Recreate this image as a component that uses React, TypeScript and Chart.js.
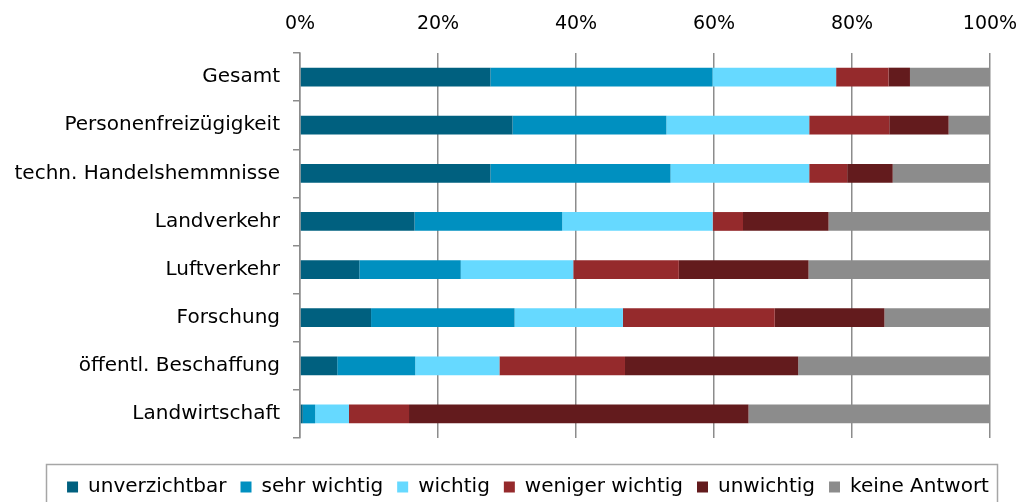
import React, { useEffect, useRef } from "react";
import { Chart, registerables } from "chart.js";

Chart.register(...registerables);

const categories = [
  "Gesamt",
  "Personenfreizügigkeit",
  "techn. Handelshemmnisse",
  "Landverkehr",
  "Luftverkehr",
  "Forschung",
  "öffentl. Beschaffung",
  "Landwirtschaft",
];

const unverzichtbar = [27.6, 30.8, 27.6, 16.6, 8.6, 10.3, 5.4, 0.4];
const sehrWichtig = [32.2, 22.3, 26.1, 21.4, 14.7, 20.8, 11.3, 1.8];
const wichtig = [17.9, 20.7, 20.1, 21.8, 16.3, 15.7, 12.2, 4.9];
const wenigerWichtig = [7.6, 11.6, 5.5, 4.4, 15.3, 22.0, 18.2, 8.7];
const unwichtig = [3.1, 8.6, 6.6, 12.4, 18.8, 15.9, 25.1, 49.2];
const keineAntwort = [11.6, 6.0, 14.1, 23.4, 26.3, 15.3, 27.8, 35.0];

const seriesNames = [
  "unverzichtbar",
  "sehr wichtig",
  "wichtig",
  "weniger wichtig",
  "unwichtig",
  "keine Antwort",
];
const seriesColors = ["#00607f", "#0090c0", "#66d9ff", "#952a2c", "#631b1d", "#8c8c8c"];
const xTicks = [0, 20, 40, 60, 80, 100];

const FONT = "'DejaVu Sans', sans-serif";
const AXIS_GREY = "#8c8c8c";

// Places the legend in its own band below the plot and frames it with a grey box
const legendFrame = {
  id: "legendFrame",
  afterLayout(chart: any) {
    const lg = chart.legend;
    if (!lg) return;
    const h = lg.height;
    lg.left = 46;
    lg.right = 1010;
    lg.width = lg.right - lg.left;
    lg.top = 463;
    lg.bottom = lg.top + h;
  },
  afterDraw(chart: any) {
    const ctx = chart.ctx;
    ctx.save();
    ctx.strokeStyle = "#a6a6a6";
    ctx.lineWidth = 1.5;
    ctx.strokeRect(46.5, 464.5, 951, 60);
    ctx.restore();
  },
};

export default function App() {
  const canvasRef = useRef<HTMLCanvasElement | null>(null);

  useEffect(() => {
    if (!canvasRef.current) return;
    const all = [unverzichtbar, sehrWichtig, wichtig, wenigerWichtig, unwichtig, keineAntwort];
    const chart = new Chart(canvasRef.current, {
      type: "bar",
      data: {
        labels: categories,
        datasets: all.map((values, i) => ({
          label: seriesNames[i],
          data: values,
          backgroundColor: seriesColors[i],
          borderWidth: 0,
          barPercentage: 0.39,
          categoryPercentage: 1,
        })),
      },
      plugins: [legendFrame],
      options: {
        indexAxis: "y",
        animation: false,
        responsive: false,
        maintainAspectRatio: false,
        layout: { padding: { left: 0, right: 34, top: 0, bottom: 20 } },
        scales: {
          x: {
            position: "top",
            stacked: true,
            min: 0,
            max: 100,
            afterBuildTicks: (scale: any) => {
              scale.ticks = xTicks.map((v) => ({ value: v }));
            },
            afterFit: (scale: any) => {
              scale.height = 53;
              scale.paddingLeft = 0;
              scale.paddingRight = 0;
            },
            ticks: {
              callback: (v: any) => v + "%",
              color: "#000",
              font: { family: FONT, size: 19 },
              padding: 18,
              maxRotation: 0,
            },
            grid: {
              color: AXIS_GREY,
              lineWidth: 1.5,
              drawTicks: false,
            },
            border: { display: false },
          },
          y: {
            stacked: true,
            afterFit: (scale: any) => {
              scale.width = 300;
            },
            ticks: {
              color: "#000",
              font: { family: FONT, size: 20 },
              padding: 13,
            },
            grid: {
              offset: true,
              drawOnChartArea: false,
              color: AXIS_GREY,
              lineWidth: 1.5,
              tickLength: 7,
            },
            border: { display: true, color: AXIS_GREY, width: 1.5 },
          },
        },
        plugins: {
          tooltip: { enabled: false },
          legend: {
            position: "bottom",
            labels: {
              color: "#000",
              font: { family: FONT, size: 20 },
              boxWidth: 11,
              boxHeight: 11,
              padding: 14,
            },
          },
        },
      },
    });
    return () => chart.destroy();
  }, []);

  return (
    <div style={{ position: "fixed", left: 0, top: 0, width: 1024, height: 502, background: "#fff" }}>
      <canvas ref={canvasRef} width={1024} height={502} />
    </div>
  );
}
